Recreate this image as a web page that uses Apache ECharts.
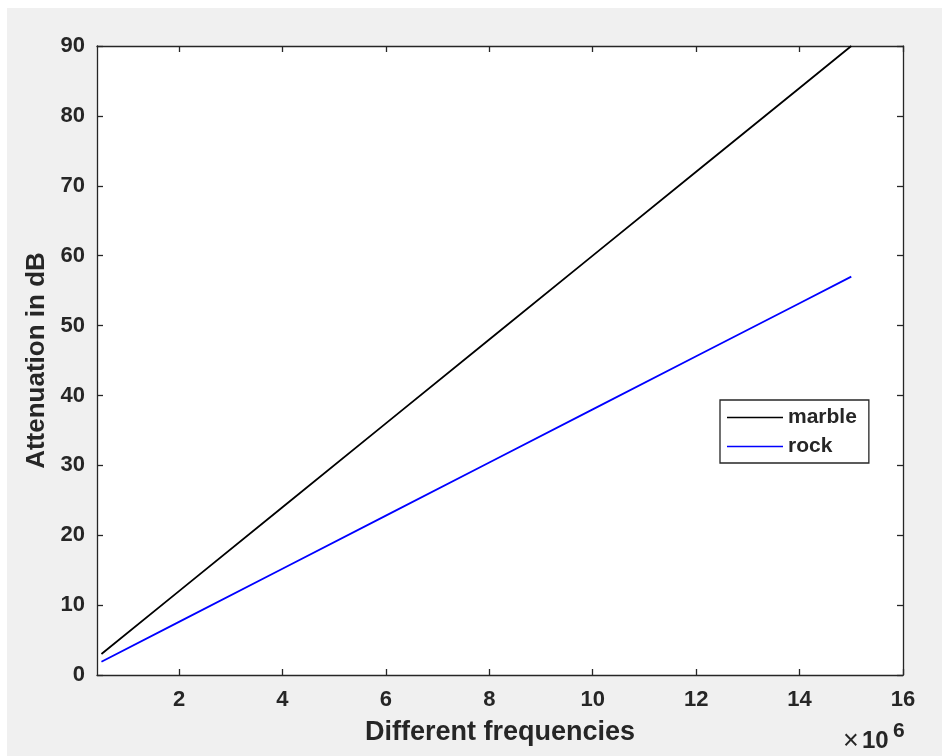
<!DOCTYPE html>
<html>
<head>
<meta charset="utf-8">
<script src="https://cdn.jsdelivr.net/npm/echarts@6/dist/echarts.min.js"></script>
<style>
html,body{margin:0;padding:0;background:#fff;}
#chart{width:942px;height:756px;}
</style>
</head>
<body>
<div id="chart"></div>
<script>
// Frequencies in units of 1e6 (axis shows ×10^6)
var frequencies = [0.5, 2, 4, 6, 8, 10, 12, 14, 15];
var marble = [3, 12, 24, 36, 48, 60, 72, 84, 90];
var rock = [1.9, 7.6, 15.2, 22.8, 30.4, 38, 45.6, 53.2, 57];
var xTicks = [2, 4, 6, 8, 10, 12, 14, 16];
var seriesNames = ['marble', 'rock'];

var axisColor = '#262626';
var fontFam = '"Liberation Sans", Arial, Helvetica, sans-serif';

function pairs(xs, ys) { return xs.map(function (x, i) { return [x, ys[i]]; }); }

var chart = echarts.init(document.getElementById('chart'), null, {renderer: 'canvas'});

var baseX = {
  type: 'value', min: 0.414, max: 16,
  axisLine: {show: true, onZero: false, lineStyle: {color: axisColor, width: 1.3}},
  axisTick: {show: true, inside: true, length: 6, customValues: xTicks, lineStyle: {color: axisColor, width: 1.3}},
  splitLine: {show: false}
};
var baseY = {
  type: 'value', min: 0, max: 90, interval: 10,
  axisLine: {show: true, onZero: false, lineStyle: {color: axisColor, width: 1.3}},
  axisTick: {show: true, inside: true, length: 6, lineStyle: {color: axisColor, width: 1.3}},
  splitLine: {show: false}
};

var option = {
  backgroundColor: '#ffffff',
  animation: false,
  textStyle: {fontFamily: fontFam},
  graphic: [
    {type: 'rect', z: -100, silent: true, shape: {x: 7, y: 8, width: 935, height: 748}, style: {fill: '#f0f0f0'}},
    {type: 'text', silent: true, style: {x: 843, y: 742, text: '×', textAlign: 'left', textVerticalAlign: 'middle',
      fill: axisColor, font: '27px ' + fontFam}},
    {type: 'text', silent: true, style: {x: 862, y: 741, text: '10', textAlign: 'left', textVerticalAlign: 'middle',
      fill: axisColor, font: 'bold 24px ' + fontFam}},
    {type: 'text', silent: true, style: {x: 893, y: 731, text: '6', textAlign: 'left', textVerticalAlign: 'middle',
      fill: axisColor, font: 'bold 21px ' + fontFam}}
  ],
  grid: {left: 97, top: 46, right: 39, bottom: 81, show: true, backgroundColor: '#ffffff', borderWidth: 0},
  xAxis: [
    Object.assign({}, baseX, {
      position: 'bottom',
      name: 'Different frequencies', nameLocation: 'middle', nameGap: 44,
      nameTextStyle: {fontSize: 27, fontWeight: 'bold', color: axisColor, fontFamily: fontFam},
      axisLabel: {show: true, customValues: xTicks, margin: 14, fontSize: 22, fontWeight: 'bold', color: axisColor, fontFamily: fontFam}
    }),
    Object.assign({}, baseX, {position: 'top', axisLabel: {show: false}})
  ],
  yAxis: [
    Object.assign({}, baseY, {
      position: 'left',
      name: 'Attenuation in dB', nameLocation: 'middle', nameGap: 47,
      nameTextStyle: {fontSize: 26, fontWeight: 'bold', color: axisColor, fontFamily: fontFam},
      axisLabel: {show: true, margin: 12, fontSize: 22, fontWeight: 'bold', color: axisColor, fontFamily: fontFam}
    }),
    Object.assign({}, baseY, {position: 'right', axisLabel: {show: false}})
  ],
  legend: {
    orient: 'vertical', left: 720, top: 400,
    data: seriesNames,
    icon: 'rect', itemWidth: 56, itemHeight: 1.5, itemGap: 8,
    padding: [7, 12, 6, 7],
    borderColor: axisColor, borderWidth: 1.3, backgroundColor: '#ffffff',
    textStyle: {fontSize: 21, fontWeight: 'bold', color: axisColor, fontFamily: fontFam, padding: [0, 0, 0, 0]}
  },
  series: [
    {name: seriesNames[0], type: 'line', data: pairs(frequencies, marble), showSymbol: false, symbol: 'none',
     lineStyle: {color: '#000000', width: 1.8}, itemStyle: {color: '#000000'}},
    {name: seriesNames[1], type: 'line', data: pairs(frequencies, rock), showSymbol: false, symbol: 'none',
     lineStyle: {color: '#0000ff', width: 1.8}, itemStyle: {color: '#0000ff'}}
  ]
};
chart.setOption(option);
</script>
</body>
</html>
